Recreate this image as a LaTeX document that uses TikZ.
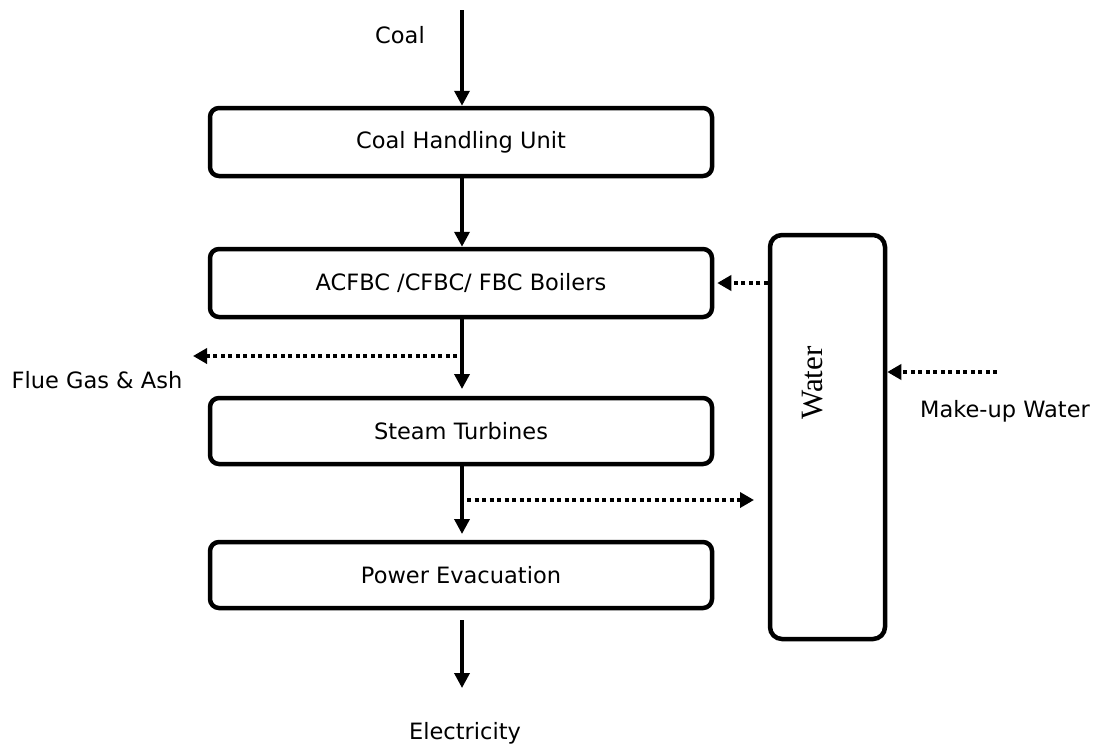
\documentclass[tikz,border=0pt]{standalone}
\usepackage{fontspec}
\setmainfont{DejaVu Sans}
\newfontfamily\serifw{Liberation Serif}
\usetikzlibrary{arrows.meta}
\begin{document}
\begin{tikzpicture}[x=1pt,y=-1pt,
  procbox/.style={draw,line width=4.5pt,rounded corners=9pt,minimum width=502pt,minimum height=68pt,inner sep=0pt,font=\fontsize{22.5}{26}\selectfont},
  lbl/.style={font=\fontsize{22.5}{26}\selectfont,inner sep=0pt,anchor=base},
  flow/.style={line width=3.5pt,-{Triangle[length=15pt,width=15pt]}},
  dflow/.style={line width=4pt,dash pattern=on 4pt off 3.5pt,-{Triangle[length=14pt,width=15pt]}}]
\useasboundingbox (0,0) rectangle (1101,747);
\node[procbox] (chu) at (461,142) {Coal Handling Unit};
\node[procbox] (boil) at (461,283) {ACFBC /CFBC/ FBC Boilers};
\node[procbox,minimum height=66pt] (st) at (461,431) {Steam Turbines};
\node[procbox,minimum height=66pt] (pe) at (461,575) {Power Evacuation};
\node[draw,line width=4.5pt,rounded corners=12pt,minimum width=115pt,minimum height=404pt,inner sep=0pt] (water) at (827.5,437) {};
\node[rotate=90,inner sep=0pt,font=\serifw\fontsize{31}{34}\selectfont] (wlbl) at (813,383) {Water};
\node[lbl] (coal) at (400,43) {Coal};
\node[lbl] (flue) at (97,388) {Flue Gas \& Ash};
\node[lbl] (mk) at (1005,417) {Make-up Water};
\node[lbl] (elec) at (465,739) {Electricity};
\coordinate (ctop) at (462,10);
\coordinate (stin) at (462,389);
\coordinate (pein) at (462,534);
\coordinate (flueend) at (193,356);
\coordinate (fluestart) at (457,356);
\coordinate (ststart) at (467,500);
\coordinate (stend) at (754,500);
\coordinate (mkstart) at (997,372);
\coordinate (elecstart) at (462,620);
\coordinate (elecend) at (462,688);
\draw[flow] (ctop) -- (chu.north -| ctop);
\draw[flow] (chu.south -| ctop) -- (boil.north -| ctop);
\draw[flow] (boil.south -| ctop) -- (stin);
\draw[dflow] (fluestart) -- (flueend);
\draw[flow] (st.south -| ctop) -- (pein);
\draw[dflow] (ststart) -- (stend);
\draw[dflow] (water.west |- boil.east) -- ([xshift=3pt]boil.east);
\draw[dflow] (mkstart) -- (water.east |- mkstart);
\draw[flow] (elecstart) -- (elecend);
\end{tikzpicture}
\end{document}
